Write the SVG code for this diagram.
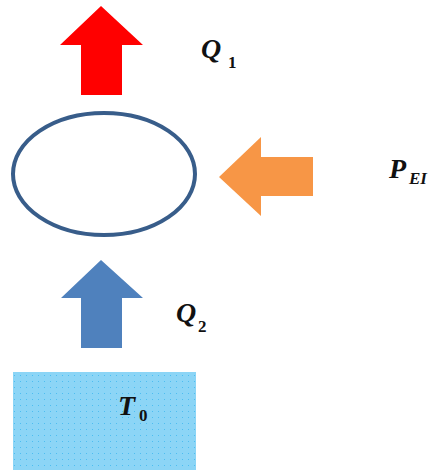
<svg xmlns="http://www.w3.org/2000/svg" width="434" height="470" viewBox="0 0 434 470">
  <style>
    .lbl { font-family: "Liberation Serif", "DejaVu Serif", serif; font-style: italic; font-weight: bold; fill: #111; }
    .main { font-size: 28px; }
    .sub { font-size: 17px; }
    .num { font-style: normal; }
  </style>
  <defs>
    <!-- fine dotted texture for the reservoir block -->
    <pattern id="dots" width="6" height="6" patternUnits="userSpaceOnUse">
      <rect width="6" height="6" fill="#8cd5f6"/>
      <rect x="2" y="3" width="1" height="1" fill="#4dbdf0"/>
    </pattern>
  </defs>

  <!-- reservoir at temperature T0 -->
  <g id="reservoir">
    <rect x="13" y="372" width="183" height="98" fill="url(#dots)"/>
    <text class="lbl main" x="118" y="415">T</text>
    <text class="lbl sub num" x="139" y="421">0</text>
  </g>

  <!-- system boundary -->
  <g id="system">
    <ellipse cx="104" cy="174" rx="91" ry="61" fill="#ffffff" stroke="#385d8a" stroke-width="4"/>
  </g>

  <!-- heat and power flows -->
  <g id="flows">
    <g id="heat-out">
      <polygon points="101,6 143,45 122,45 122,95 81,95 81,45 60,45" fill="#ff0000"/>
      <text class="lbl main" x="201" y="58">Q</text>
      <text class="lbl sub num" x="228" y="68">1</text>
    </g>
    <g id="power-in">
      <polygon points="219,177 261,137 261,157 313,157 313,196 261,196 261,216" fill="#f79646"/>
      <text class="lbl main" x="389" y="178">P</text>
      <text class="lbl sub" x="409" y="184">EI</text>
    </g>
    <g id="heat-in">
      <polygon points="101,260 143,298 122,298 122,348 81,348 81,298 61,298" fill="#4f81bd"/>
      <text class="lbl main" x="176" y="322">Q</text>
      <text class="lbl sub num" x="198" y="332">2</text>
    </g>
  </g>
</svg>
